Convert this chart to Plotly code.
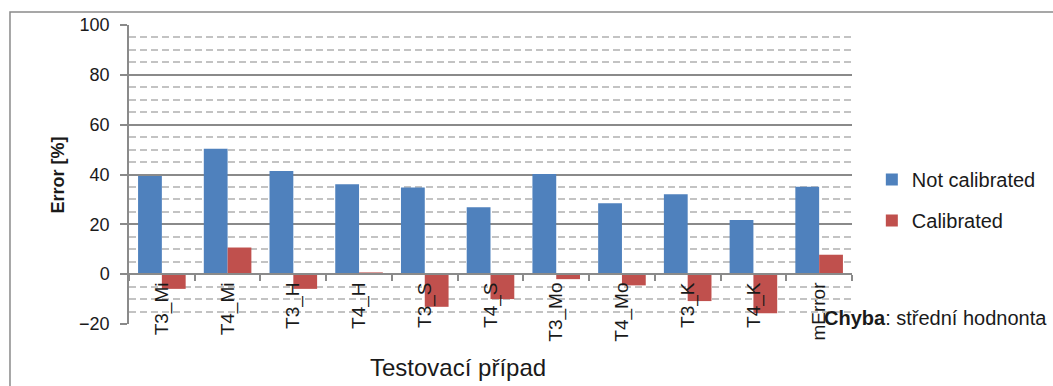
import plotly.graph_objects as go

# Test cases and error values [%]
categories = ["T3_Mi", "T4_Mi", "T3_H", "T4_H", "T3_S", "T4_S",
              "T3_Mo", "T4_Mo", "T3_K", "T4_K", "mError"]
not_calibrated = [39.4, 50.3, 41.4, 36.1, 34.8, 26.9, 40.2, 28.5, 32.1, 21.7, 35.1]
calibrated = [-5.9, 10.7, -5.9, 0.7, -13.1, -10.0, -2.0, -4.5, -10.8, -15.7, 7.8]

y_ticks = [-20, 0, 20, 40, 60, 80, 100]

FONT = "Liberation Sans"
TEXT = "#1a1a1a"
AXIS = "#8a8a8a"

W, H = 1053, 386
L, R, T, B = 129, 195, 25, 62
PW, PH = W - L - R, H - T - B


def px_x(px):
    return (px - L) / PW


def px_y(py):
    return (H - B - py) / PH


fig = go.Figure()
fig.add_trace(go.Bar(x=categories, y=not_calibrated, name="Not calibrated",
                     marker=dict(color="#4F81BD", line=dict(width=0)),
                     legendgroup="a"))
fig.add_trace(go.Bar(x=categories, y=calibrated, name="Calibrated",
                     marker=dict(color="#C0504D", line=dict(width=0)),
                     legendgroup="b"))

y_min, y_max = y_ticks[0], y_ticks[-1]

fig.update_layout(
    width=W, height=H,
    margin=dict(l=L, r=R, t=T, b=B),
    paper_bgcolor="white", plot_bgcolor="white",
    barmode="group", bargap=0.276, bargroupgap=0,
    font=dict(family=FONT, color=TEXT, size=19),
    showlegend=True,
    legend=dict(x=px_x(878), y=px_y(160), xanchor="left", yanchor="top",
                font=dict(size=20, color=TEXT), traceorder="grouped",
                tracegroupgap=12, bgcolor="rgba(0,0,0,0)"),
    xaxis=dict(
        type="category", anchor="free",
        position=(0 - y_min) / (y_max - y_min),
        showline=True, linecolor=AXIS, linewidth=1.5,
        ticks="outside", tickson="boundaries", ticklen=6, tickwidth=1.5,
        tickcolor=AXIS, tickangle=-90, tickfont=dict(size=19, color=TEXT),
        showgrid=False, zeroline=False,
    ),
    yaxis=dict(
        range=[y_min, y_max], tickvals=y_ticks,
        showline=True, linecolor=AXIS, linewidth=1.5,
        ticks="outside", ticklen=7, tickwidth=1.5, tickcolor=AXIS,
        tickfont=dict(size=18, color=TEXT), ticklabelstandoff=7,
        showgrid=True, gridcolor=AXIS, gridwidth=1.5,
        zeroline=False,
        minor=dict(dtick=5, showgrid=True, gridcolor="#c3c3c3",
                   gridwidth=1.5, griddash="7px,4px", ticks=""),
    ),
    shapes=[dict(type="rect", xref="paper", yref="paper",
                 x0=px_x(9), x1=px_x(1100), y0=px_y(440), y1=px_y(12),
                 line=dict(color=AXIS, width=1.5), fillcolor="rgba(0,0,0,0)",
                 layer="below")],
    annotations=[
        dict(text="<b>Error [%]</b>", xref="paper", yref="paper",
             x=px_x(57), y=px_y(175), textangle=-90, showarrow=False,
             font=dict(size=18, color=TEXT), xanchor="center", yanchor="middle"),
        dict(text="Testovací případ", xref="paper", yref="paper",
             x=px_x(461), y=px_y(368), showarrow=False,
             font=dict(size=24, color=TEXT), xanchor="center", yanchor="middle"),
        dict(text="<b>Chyba</b>: střední hodnonta", xref="paper", yref="paper",
             x=px_x(828), y=px_y(318), showarrow=False,
             font=dict(size=20, color=TEXT), xanchor="left", yanchor="middle"),
    ],
)

fig.write_html("out.html")
